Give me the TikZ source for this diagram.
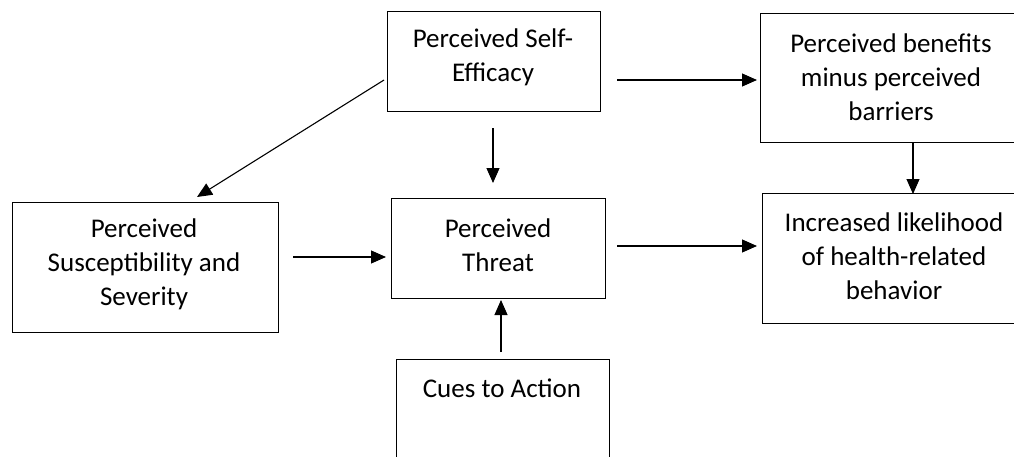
\documentclass[tikz,border=0pt]{standalone}
\usepackage{fontspec}
\setmainfont{Carlito}
\usetikzlibrary{arrows.meta}
\begin{document}
\begin{tikzpicture}[x=1pt,y=-1pt,
  box/.style={draw=black,line width=1.4pt,rectangle,inner sep=0pt,anchor=north west},
  lbl/.style={align=center,inner sep=0pt,font=\fontsize{27}{34}\selectfont},
  arr/.style={draw=black,line width=1.1pt,-{Triangle[length=15pt,width=13pt]}}]
\useasboundingbox (0,0) rectangle (1014,456);
\clip (0,0) rectangle (1014,456);
% boxes
\node[box,minimum width=213pt,minimum height=100pt] (selfeff) at (387,11) {};
\node[box,minimum width=270pt,minimum height=129pt] (benefit) at (760,13) {};
\node[box,minimum width=266pt,minimum height=130pt] (suscept) at (12,202) {};
\node[box,minimum width=214pt,minimum height=100pt] (threat) at (391,198) {};
\node[box,minimum width=270pt,minimum height=130pt] (likely) at (762,193) {};
\node[box,minimum width=213pt,minimum height=130pt] (cues) at (396,359) {};
% labels
\node[lbl] (tself) at (493,57) {Perceived Self-\\Efficacy};
\node[lbl] (tbenefit) at (891,77) {Perceived benefits\\minus perceived\\barriers};
\node[lbl] (tsuscept) at (144,264) {Perceived\\Susceptibility and\\Severity};
\node[lbl] (tthreat) at (498,245) {Perceived\\Threat};
\node[lbl] (tlikely) at (894,256) {Increased likelihood\\of health-related\\behavior};
\node[lbl] (tcues) at (502,388) {Cues to Action};
% connector end points
\coordinate (a1) at (384,80);  \coordinate (a2) at (197,197);
\coordinate (b1) at (493,128); \coordinate (b2) at (493,183);
\coordinate (c1) at (617,80);  \coordinate (c2) at (757,80);
\coordinate (d1) at (913,142); \coordinate (d2) at (913,194);
\coordinate (e1) at (293,257); \coordinate (e2) at (386,257);
\coordinate (f1) at (617,246); \coordinate (f2) at (757,246);
\coordinate (g1) at (501,352); \coordinate (g2) at (501,300);
% connectors
\draw[arr] (a1) -- (a2);
\draw[arr] (b1) -- (b2);
\draw[arr] (c1) -- (c2);
\draw[arr] (d1) -- (d2);
\draw[arr] (e1) -- (e2);
\draw[arr] (f1) -- (f2);
\draw[arr] (g1) -- (g2);
\end{tikzpicture}
\end{document}
